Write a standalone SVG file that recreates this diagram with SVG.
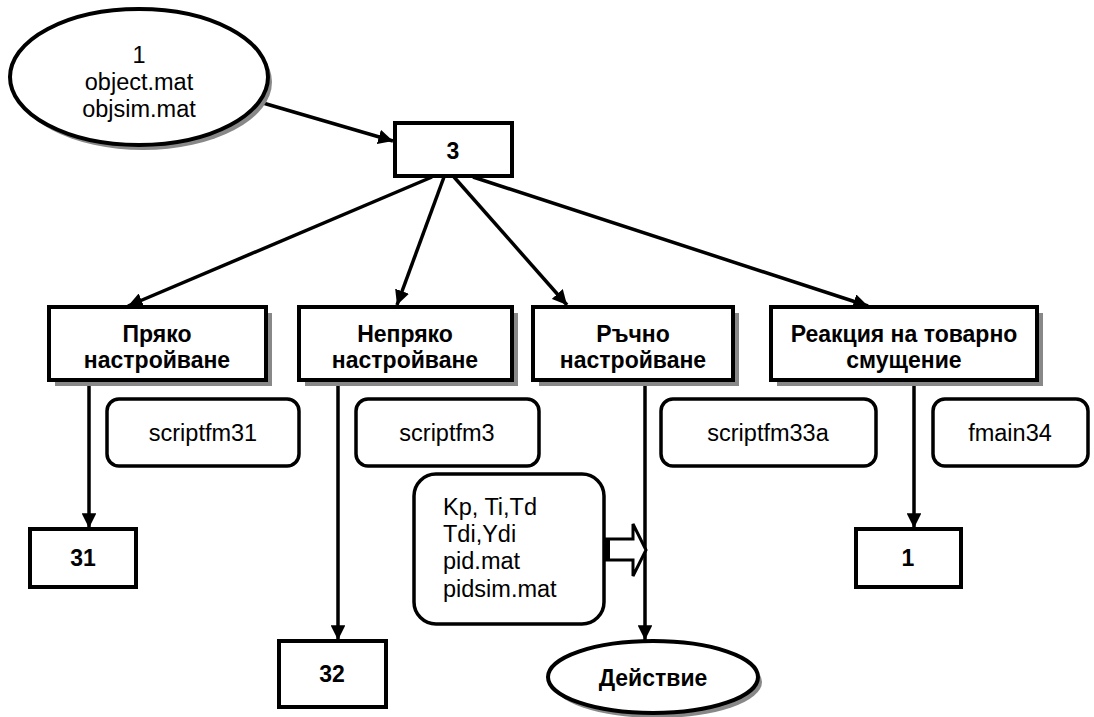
<svg xmlns="http://www.w3.org/2000/svg" width="1094" height="717" viewBox="0 0 1094 717">
<style>
  .box { fill: #fff; stroke: #000; stroke-width: 4; }
  .shadow { fill: #888; stroke: none; }
  .rbox { fill: #fff; stroke: #000; stroke-width: 3.5; }
  .edge { fill: none; stroke: #000; stroke-width: 3.5; }
  .b { font-family: "Liberation Sans", Arial, sans-serif; font-weight: bold; font-size: 23px; text-anchor: middle; fill: #000; }
  .r { font-family: "Liberation Sans", Arial, sans-serif; font-size: 23.5px; text-anchor: middle; fill: #000; }
  .l { font-family: "Liberation Sans", Arial, sans-serif; font-size: 23.5px; text-anchor: start; fill: #000; }
</style>
<defs>
  <marker id="ah" viewBox="0 0 10 10" refX="10" refY="5" markerWidth="4.2" markerHeight="4.2" markerUnits="strokeWidth" orient="auto">
    <path d="M0,0 L10,5 L0,10 Z" fill="#000"/>
  </marker>
</defs>
<rect width="1094" height="717" fill="#fff"/>

<g id="connectors">
  <line class="edge" x1="263" y1="103" x2="393" y2="141" marker-end="url(#ah)"/>
  <line class="edge" x1="432" y1="177" x2="128" y2="306" marker-end="url(#ah)"/>
  <line class="edge" x1="444" y1="177" x2="397" y2="305" marker-end="url(#ah)"/>
  <line class="edge" x1="454" y1="177" x2="567" y2="305" marker-end="url(#ah)"/>
  <line class="edge" x1="473" y1="177" x2="868" y2="306" marker-end="url(#ah)"/>
  <line class="edge" x1="89" y1="380" x2="89" y2="528" marker-end="url(#ah)"/>
  <line class="edge" x1="338" y1="380" x2="338" y2="640" marker-end="url(#ah)"/>
  <line class="edge" x1="645" y1="380" x2="645" y2="640" marker-end="url(#ah)"/>
  <line class="edge" x1="914" y1="380" x2="914" y2="528" marker-end="url(#ah)"/>
  <path d="M606,539 L633,539 L633,524 L646,550 L633,576 L633,560 L606,560 Z" fill="#fff" stroke="#000" stroke-width="3"/>
  <rect x="604" y="539" width="6" height="21" fill="#000"/>
</g>

<g id="n_start">
  <ellipse cx="143" cy="82" rx="129" ry="68" class="shadow"/>
  <ellipse cx="139" cy="77" rx="129" ry="68" class="box"/>
  <text class="r" x="139" y="63">1</text>
  <text class="r" x="139" y="90">object.mat</text>
  <text class="r" x="139" y="117">objsim.mat</text>
</g>

<g id="n3">
  <rect x="395" y="123" width="117" height="53" class="box"/>
  <text class="b" x="453" y="159">3</text>
</g>

<g id="n_pryako">
  <rect x="55" y="313" width="217" height="73" class="shadow"/>
  <rect x="49" y="307" width="217" height="73" class="box"/>
  <text class="b" x="157" y="342">Пряко</text>
  <text class="b" x="157" y="368">настройване</text>
</g>

<g id="n_nepryako">
  <rect x="305" y="313" width="213" height="73" class="shadow"/>
  <rect x="299" y="307" width="213" height="73" class="box"/>
  <text class="b" x="405" y="342">Непряко</text>
  <text class="b" x="405" y="368">настройване</text>
</g>

<g id="n_rachno">
  <rect x="539" y="313" width="200" height="73" class="shadow"/>
  <rect x="533" y="307" width="200" height="73" class="box"/>
  <text class="b" x="633" y="342">Ръчно</text>
  <text class="b" x="633" y="368">настройване</text>
</g>

<g id="n_reakcia">
  <rect x="777" y="313" width="266" height="73" class="shadow"/>
  <rect x="771" y="307" width="266" height="73" class="box"/>
  <text class="b" x="904" y="342">Реакция на товарно</text>
  <text class="b" x="904" y="368">смущение</text>
</g>

<g id="s31">
  <rect x="107" y="399" width="192" height="67" rx="12" class="rbox"/>
  <text class="r" x="203" y="441">scriptfm31</text>
</g>
<g id="s3">
  <rect x="356" y="399" width="183" height="67" rx="12" class="rbox"/>
  <text class="r" x="447" y="441">scriptfm3</text>
</g>
<g id="s33a">
  <rect x="661" y="399" width="215" height="67" rx="12" class="rbox"/>
  <text class="r" x="768" y="441">scriptfm33a</text>
</g>
<g id="s34">
  <rect x="933" y="399" width="155" height="67" rx="12" class="rbox"/>
  <text class="r" x="1010" y="441">fmain34</text>
</g>

<g id="n_pid">
  <rect x="414" y="474" width="190" height="150" rx="22" class="rbox"/>
  <text class="l" x="443" y="515">Kp, Ti,Td</text>
  <text class="l" x="443" y="542">Tdi,Ydi</text>
  <text class="l" x="443" y="569">pid.mat</text>
  <text class="l" x="443" y="597">pidsim.mat</text>
</g>

<g id="n31">
  <rect x="30" y="529" width="106" height="58" class="box"/>
  <text class="b" x="83" y="566">31</text>
</g>
<g id="n32">
  <rect x="279" y="641" width="107" height="66" class="box"/>
  <text class="b" x="332" y="682">32</text>
</g>
<g id="n1">
  <rect x="856" y="529" width="105" height="58" class="box"/>
  <text class="b" x="908" y="566">1</text>
</g>

<g id="n_action">
  <ellipse cx="657" cy="682" rx="105" ry="36" class="shadow"/>
  <ellipse cx="653" cy="677" rx="105" ry="36" class="box"/>
  <text class="b" x="653" y="686">Действие</text>
</g>
</svg>
